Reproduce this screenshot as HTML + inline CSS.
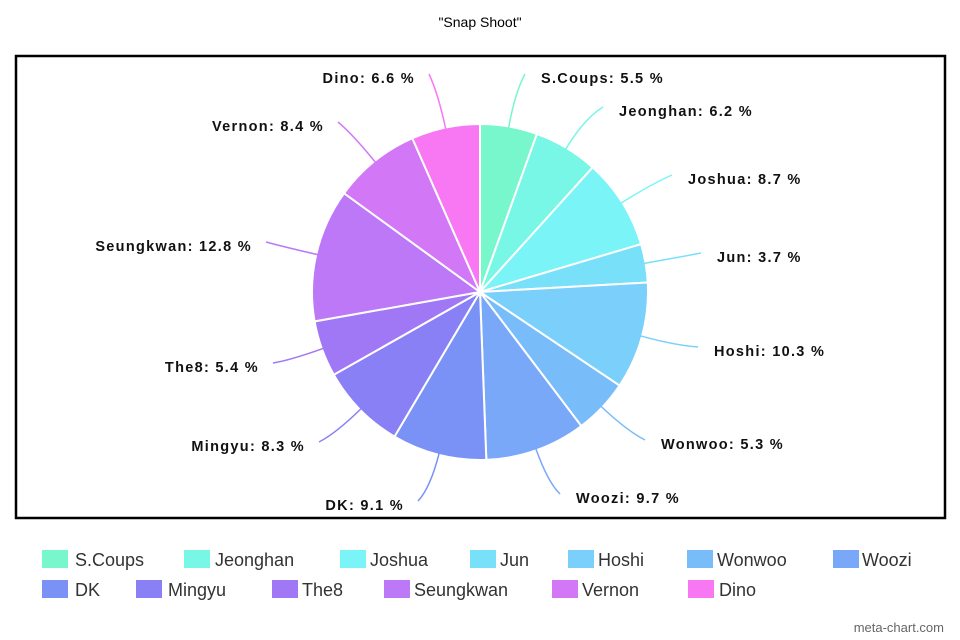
<!DOCTYPE html>
<html><head><meta charset="utf-8">
<style>
body{margin:0;width:960px;height:640px;background:#fff;overflow:hidden;font-family:"Liberation Sans",sans-serif;}
</style></head>
<body>
<svg id="s" width="960" height="640" xmlns="http://www.w3.org/2000/svg" style="position:absolute;left:0;top:0">
<text x="480" y="27" text-anchor="middle" font-size="14" fill="#000" font-family="Liberation Sans">"Snap Shoot"</text>
<rect x="16" y="56" width="929" height="462" fill="none" stroke="#000" stroke-width="2.5"/>
<g id="pie"></g>
<g id="lab" font-family="Liberation Sans" font-weight="bold" font-size="14.5" fill="#111" letter-spacing="1.3"></g>
<g id="leg" font-family="Liberation Sans" font-size="18" fill="#333"></g>
<text x="944" y="632" text-anchor="end" font-size="13" fill="#666" font-family="Liberation Sans">meta-chart.com</text>
</svg>
<script>
var d=[["S.Coups",5.5,"#78f6cc",541,78,1],["Jeonghan",6.2,"#78f6e6",619,111,1],["Joshua",8.7,"#7af4f6",688,179,1],["Jun",3.7,"#78e0f8",717,257,1],["Hoshi",10.3,"#7ad0fa",714,351,1],["Wonwoo",5.3,"#78bcfa",661,444,1],["Woozi",9.7,"#7aa8f8",576,498,1],["DK",9.1,"#7a92f6",404,505,0],["Mingyu",8.3,"#8a80f6",305,446,0],["The8",5.4,"#a078f6",259,367,0],["Seungkwan",12.8,"#bc78f6",252,246,0],["Vernon",8.4,"#d278f6",324,126,0],["Dino",6.6,"#f878f4",415,78,0]];
var cx=480,cy=292,r=168,a=0,P="",L="";
function pt(ang,rr){return [cx+rr*Math.sin(ang),cy-rr*Math.cos(ang)];}
d.forEach(function(e){
 var a1=a+e[1]/100*2*Math.PI,p0=pt(a,r),p1=pt(a1,r),lg=(a1-a)>Math.PI?1:0;
 P+='<path d="M'+cx+','+cy+'L'+p0[0]+','+p0[1]+'A'+r+','+r+' 0 '+lg+' 1 '+p1[0]+','+p1[1]+'Z" fill="'+e[2]+'" stroke="#fff" stroke-width="2"/>';
 var m=(a+a1)/2,q0=pt(m,r-2),q1=pt(m,r+34);
 var ex=e[5]?e[3]-16:e[3]+14,ey=e[4]-4;
 P+='<path d="M'+q0[0]+','+q0[1]+'Q'+q1[0]+','+q1[1]+' '+ex+','+ey+'" fill="none" stroke="'+e[2]+'" stroke-width="1.5"/>';
 L+='<text x="'+e[3]+'" y="'+(e[4]+5)+'" text-anchor="'+(e[5]?'start':'end')+'">'+e[0]+': '+e[1]+' %</text>';
 a=a1;});
document.getElementById('pie').innerHTML=P;
document.getElementById('lab').innerHTML=L;
var sq=[42,184,340,470,568,687,833,42,136,272,384,552,688],tx=[75,215,370,500,598,717,862,75,168,302,414,582,719],G="";
d.forEach(function(e,i){var y=i<7?550:580;
 G+='<rect x="'+sq[i]+'" y="'+y+'" width="26" height="18" fill="'+e[2]+'"/><text x="'+tx[i]+'" y="'+(y+16)+'">'+e[0]+'</text>';});
document.getElementById('leg').innerHTML=G;
</script>
</body></html>
